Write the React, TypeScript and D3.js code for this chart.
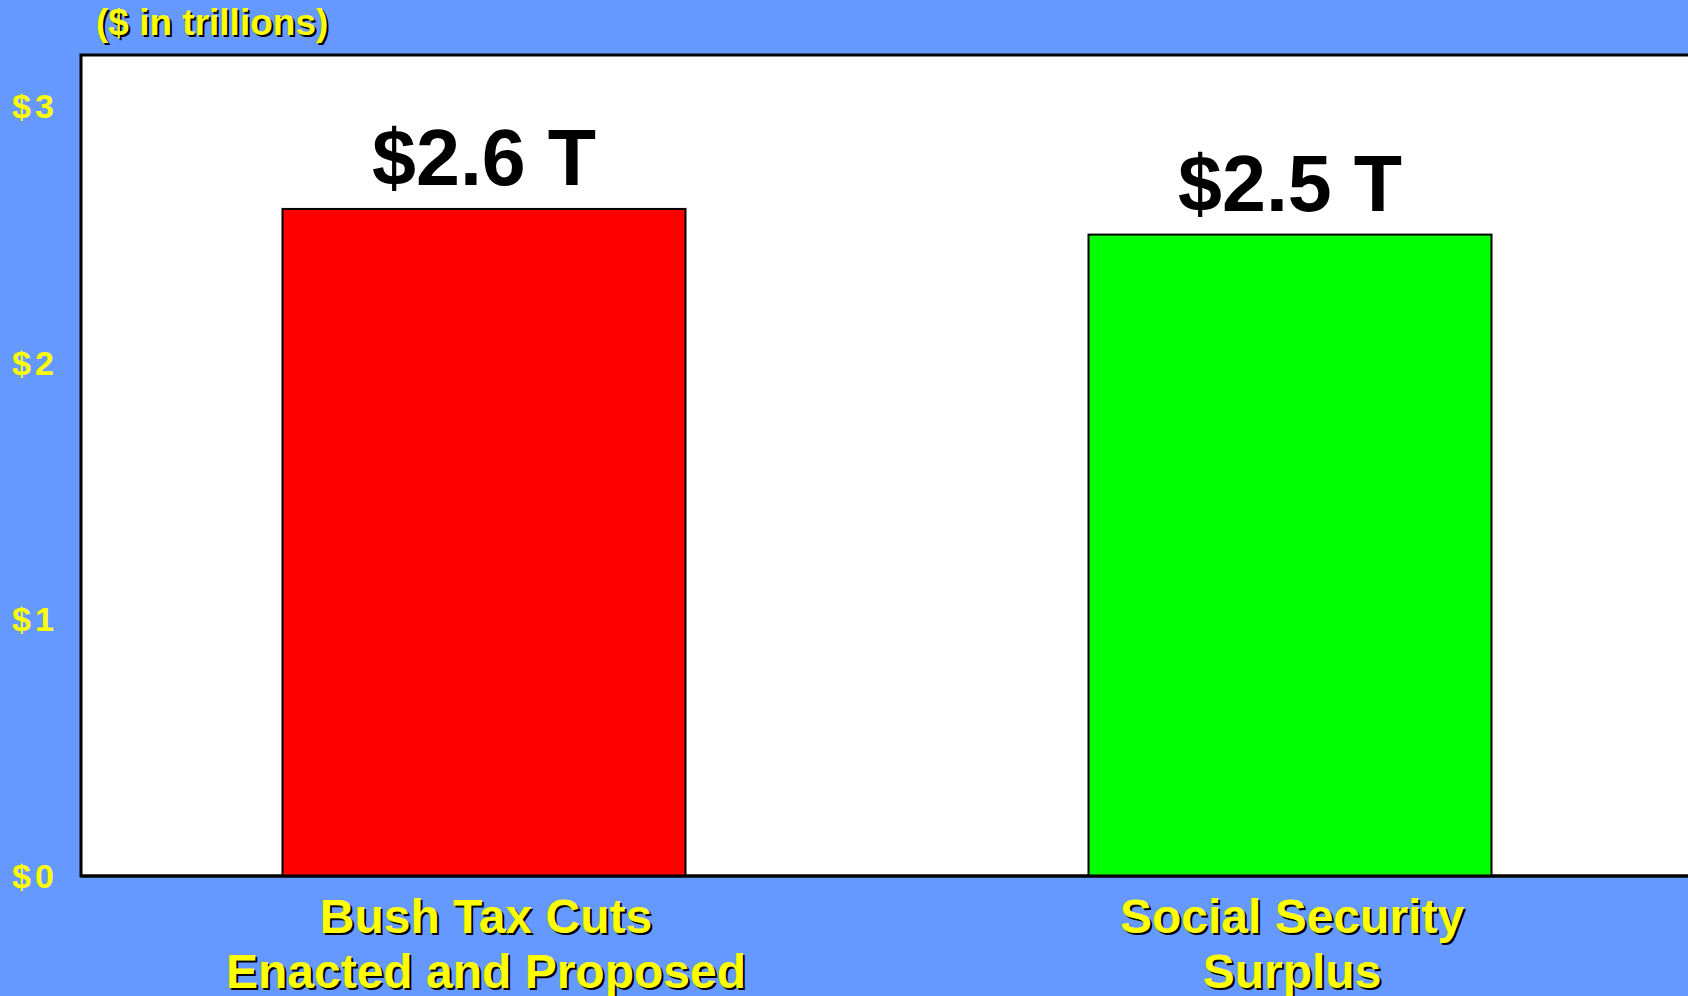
import React from "react";
import * as d3 from "d3";

const categories: string[][] = [
  ["Bush Tax Cuts", "Enacted and Proposed"],
  ["Social Security", "Surplus"],
];
const values: number[] = [2.6, 2.5];
const valueLabels: string[] = ["$2.6 T", "$2.5 T"];
const barColors: string[] = ["#FF0000", "#00FF00"];
const yTicks: number[] = [0, 1, 2, 3];
const yTickLabels: string[] = ["$0", "$1", "$2", "$3"];
const unitLabel = "($ in trillions)";

const W = 1688;
const H = 996;
const FONT = "'Liberation Sans', Arial, Helvetica, sans-serif";
const BG = "#6699FF";
const YELLOW = "#FFFF00";

const plot = { left: 81, top: 55, right: 1693, bottom: 876 };

function ShadowText(props: {
  x: number;
  y: number;
  size: number;
  anchor?: string;
  children: string;
  dx?: number;
}) {
  const { x, y, size, anchor = "middle", children, dx = 2 } = props;
  return (
    <g fontFamily={FONT} fontWeight="bold" fontSize={size} textAnchor={anchor}>
      <text x={x + dx} y={y + dx} fill="#000">
        {children}
      </text>
      <text x={x} y={y} fill={YELLOW}>
        {children}
      </text>
    </g>
  );
}

export default function App() {
  const x = d3
    .scaleBand<number>()
    .domain(values.map((_, i) => i))
    .range([plot.left, plot.right])
    .paddingInner(0.5)
    .paddingOuter(0.25);
  const y = d3.scaleLinear().domain([0, 3.2]).range([plot.bottom, plot.top]);

  return (
    <svg
      width={W}
      height={H}
      style={{ position: "absolute", left: 0, top: 0, display: "block" }}
    >
      <rect x={0} y={0} width={W} height={H} fill={BG} />
      {/* plot area */}
      <rect
        x={plot.left}
        y={plot.top}
        width={W - plot.left + 10}
        height={plot.bottom - plot.top}
        fill="#FFFFFF"
        stroke="#000"
        strokeWidth={3}
      />
      {/* bars */}
      {values.map((v, i) => (
        <rect
          key={i}
          x={x(i)!}
          y={y(v)}
          width={x.bandwidth()}
          height={y(0) - y(v)}
          fill={barColors[i]}
          stroke="#000"
          strokeWidth={2}
        />
      ))}
      {/* redraw bottom axis line on top */}
      <line
        x1={plot.left}
        x2={W}
        y1={plot.bottom}
        y2={plot.bottom}
        stroke="#000"
        strokeWidth={3}
      />
      {/* value labels */}
      {values.map((v, i) => (
        <text
          key={i}
          x={x(i)! + x.bandwidth() / 2}
          y={y(v) - 24}
          textAnchor="middle"
          fontFamily={FONT}
          fontWeight="bold"
          fontSize={79}
          fill="#000"
        >
          {valueLabels[i]}
        </text>
      ))}
      {/* y tick labels */}
      {yTicks.map((t, i) => (
        <text
          key={t}
          x={12}
          y={y(t) + 12}
          fontFamily={FONT}
          fontWeight="bold"
          fontSize={34}
          letterSpacing={4}
          fill={YELLOW}
        >
          {yTickLabels[i]}
        </text>
      ))}
      {/* category labels */}
      {categories.map((lines, i) =>
        lines.map((line, j) => (
          <ShadowText
            key={i + "-" + j}
            x={x(i)! + x.bandwidth() / 2 + 2}
            y={933 + j * 55}
            size={48}
          >
            {line}
          </ShadowText>
        ))
      )}
      {/* unit label */}
      <ShadowText x={96} y={35} size={37} anchor="start">
        {unitLabel}
      </ShadowText>
    </svg>
  );
}
